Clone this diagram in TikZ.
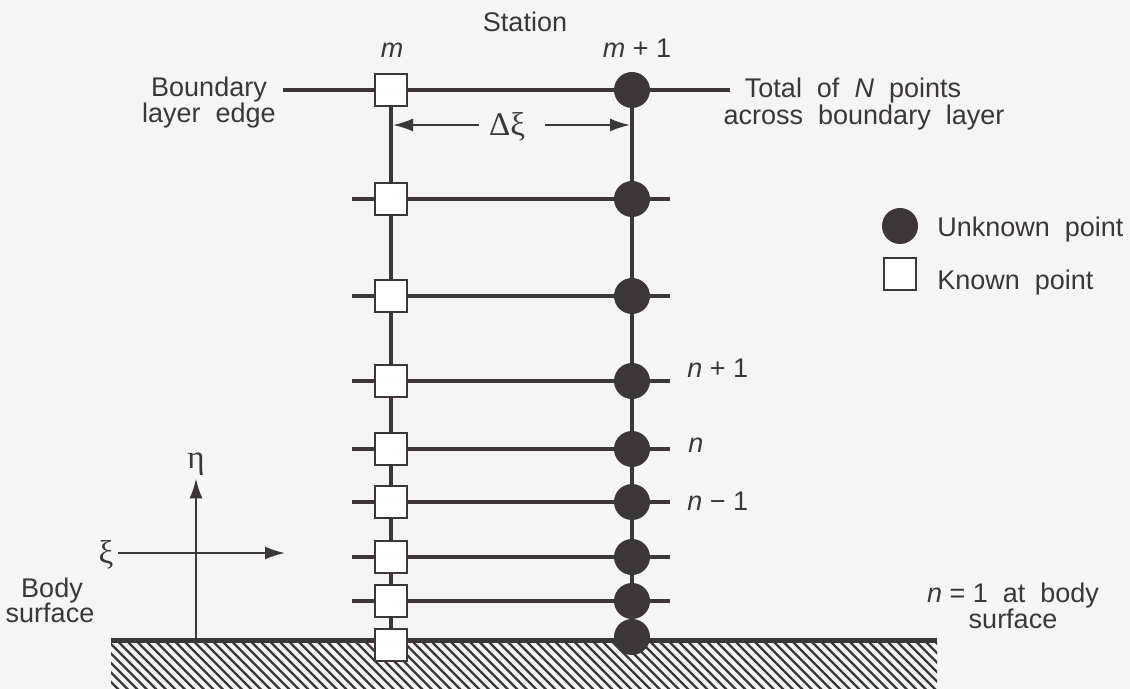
\documentclass[tikz,border=0pt]{standalone}
\usepackage{fontspec}
\setmainfont{Liberation Sans}[WordSpace=2]
\newfontfamily\plain{Liberation Sans}
\newfontfamily\greek{Liberation Serif}
\usetikzlibrary{arrows.meta}
\definecolor{ink}{RGB}{60,54,56}
\definecolor{paper}{RGB}{245,245,245}
\pgfdeclarelayer{back}
\pgfsetlayers{back,main}
\tikzset{
  known/.style={draw=ink,fill=white,line width=1pt,minimum size=16pt,inner sep=0pt},
  unknown/.style={circle,fill=ink,minimum size=18pt,inner sep=0pt},
  gridline/.style={ink,line width=2pt},
  axis/.style={ink,line width=1pt,->},
  lbl/.style={inner sep=0pt,text=ink,font=\fontsize{13.5}{16}\selectfont},
  glbl/.style={inner sep=0pt,text=ink,font=\greek\fontsize{16.5}{18}\selectfont},
}

\begin{document}
\begin{tikzpicture}[x=0.5pt,y=-0.5pt,>={Latex[length=10pt,width=6.5pt]}]
\useasboundingbox (0,0) rectangle (1130,689);
% grid points, row 1 lies on the body surface
\foreach \i/\y/\ky in {1/637/645,2/601/601,3/557/557,4/502/502,5/449/449,6/381/381,7/296/296,8/199/199,9/90/90}{
  \node[unknown] (u\i) at (632,\y) {};
  \node[known] (k\i) at (391,\ky) {};
}
\coordinate (edgeL) at (283,90);
\coordinate (edgeR) at (730,90);
\coordinate (dl) at (393,125);
\coordinate (dr) at (630,125);
\coordinate (eta0) at (196,640);
\coordinate (xtail) at (118,553);
\coordinate (xtip) at (285,553);

% labels
\node[lbl,anchor=base] (station) at (525,32) {Station};
\node[lbl,anchor=base] (m0) at (392,58) {\plain\textit{m}};
\node[lbl,anchor=base] (m1) at (637,58) {\plain\textit{m} + 1};
\node[lbl,anchor=base] (bl1) at (209,97) {Boundary};
\node[lbl,anchor=base] (bl2) at (209,123) {layer edge};
\node[lbl,anchor=base] (tot1) at (853,98) {Total of \textit{N} points};
\node[lbl,anchor=base] (tot2) at (864,125) {across boundary layer};
\node[glbl,anchor=base] (dxi) at (507,136) {Δξ};
\node[lbl,anchor=base west] (np1) at (687,378) {\plain\textit{n} + 1};
\node[lbl,anchor=base west] (n0) at (688,453) {\plain\textit{n}};
\node[lbl,anchor=base west] (nm1) at (687,510) {\plain\textit{n} − 1};
\node[lbl,anchor=base] (surf1) at (1013,603) {{\plain\textit{n} = 1} at body};
\node[lbl,anchor=base] (surf2) at (1013,628) {surface};
\node[lbl,anchor=base] (body1) at (52,597) {Body};
\node[lbl,anchor=base] (body2) at (50,622) {surface};
\node[glbl,anchor=base] (eta) at (196,469) {η};
\node[glbl,anchor=base] (xi) at (106,563) {ξ};

% legend
\node[unknown] (lu) at (900,226) {};
\node[known] (lk) at (900,274) {};
\node[lbl,anchor=base west] (lut) at (937,237) {Unknown point};
\node[lbl,anchor=base west] (lkt) at (937,290) {Known point};

\begin{pgfonlayer}{back}
\fill[paper] (0,0) rectangle (1130,689);
% body surface
\begin{scope}
  \clip (111,640) rectangle (937,689);
  \foreach \h in {50,59.5,...,950}
    \draw[ink,line width=1.1pt] (\h,640) -- ({\h+52},692);
\end{scope}
\draw[ink,line width=2.5pt] (111,640) -- (937,640);
% stations m and m+1
\draw[gridline] (k9.center) -- (k1.center);
\draw[gridline] (u9.center) -- (u1.center);
\draw[gridline] (edgeL) -- (edgeR);
\foreach \i in {2,...,8}
  \draw[gridline] ([xshift=-19.5pt]k\i.center) -- ([xshift=19pt]u\i.center);
% step and axes
\draw[axis] ([xshift=-5pt]dxi.west |- dl) -- (dl);
\draw[axis] ([xshift=10pt]dxi.east |- dr) -- (dr);
\draw[axis] (eta0) -- ([yshift=-1pt]eta.south);
\draw[axis] (xtail) -- (xtip);
\end{pgfonlayer}
\end{tikzpicture}
\end{document}
